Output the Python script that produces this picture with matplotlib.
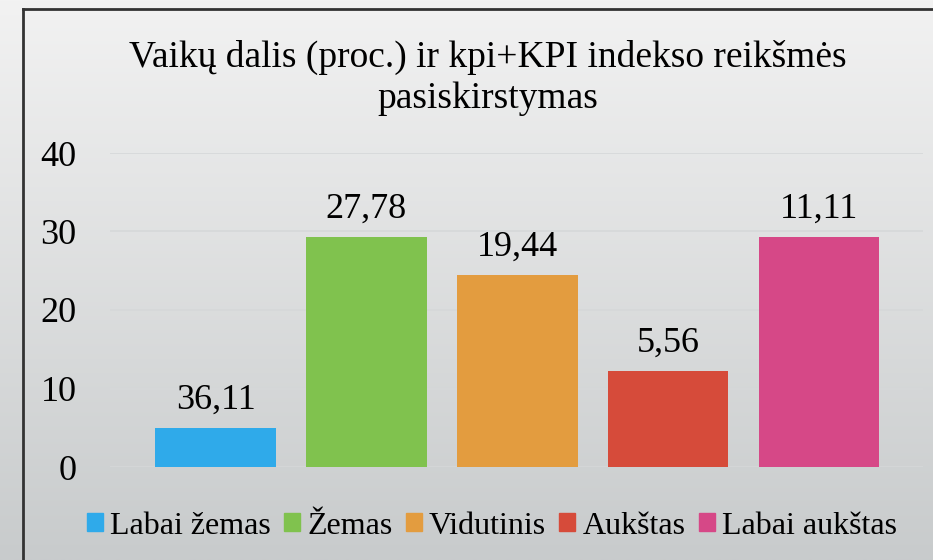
import numpy as np
import matplotlib
matplotlib.use("Agg")
import matplotlib.pyplot as plt
from matplotlib.patches import Patch
from matplotlib.lines import Line2D

plt.rcParams['font.family'] = ['Liberation Serif', 'DejaVu Serif']

# data
categories = ['Labai žemas', 'Žemas', 'Vidutinis', 'Aukštas', 'Labai aukštas']
heights = [5.0, 29.3, 24.5, 12.2, 29.3]
bar_labels = ['36,11', '27,78', '19,44', '5,56', '11,11']
colors = ['#2FAAEA', '#80C24E', '#E39C3F', '#D64B3A', '#D64887']
yticks = [0, 10, 20, 30, 40]
title = 'Vaikų dalis (proc.) ir kpi+KPI indekso reikšmės\npasiskirstymas'

fig = plt.figure(figsize=(9.33, 5.6), dpi=100)

# gradient background
bg = fig.add_axes([0, 0, 1, 1])
grad = np.linspace(0, 1, 256).reshape(-1, 1)
cmap = matplotlib.colors.LinearSegmentedColormap.from_list('bg', ['#F2F2F2', '#C8CBCC'])
bg.imshow(grad, aspect='auto', cmap=cmap, extent=[0, 1, 0, 1], origin='upper')
bg.set_xlim(0, 1)
bg.set_ylim(0, 1)
bg.axis('off')
# chart frame (left and top edges visible)
fx = 23 / 933
fy = 1 - 9 / 560
bg.add_line(Line2D([fx, fx], [0, fy], color='#333333', lw=2))
bg.add_line(Line2D([fx, 1], [fy, fy], color='#333333', lw=2))

ax = fig.add_axes([110 / 933, 93 / 560, 813 / 933, 314 / 560])
ax.patch.set_alpha(0)
x = np.arange(len(categories))
bars = ax.bar(x, heights, width=0.8, color=colors, zorder=3)
for b, lab in zip(bars, bar_labels):
    ax.annotate(lab, (b.get_x() + b.get_width() / 2, b.get_height()),
                xytext=(0, 8), textcoords='offset points',
                ha='center', va='bottom', fontsize=26)

ax.set_xlim(-0.7, 4.69)
ax.set_ylim(0, 40)
ax.set_yticks(yticks)
ax.tick_params(axis='y', length=0, labelsize=26, pad=24)
ax.set_xticks([])
ax.yaxis.grid(True, color='#D6D8D9', lw=1.2, zorder=0)
for s in ax.spines.values():
    s.set_visible(False)

fig.text(488 / 933, 1 - 78 / 560, title, ha='center', va='center',
         fontsize=27, linespacing=1.25)

handles = [Patch(color=c) for c in colors]
fig.legend(handles, categories, loc='center', bbox_to_anchor=(492 / 933, 34 / 560),
           ncol=5, frameon=False, fontsize=23, handlelength=0.5, handleheight=0.5,
           handletextpad=0.22, columnspacing=0.42, borderpad=0, borderaxespad=0)

fig.savefig('out.png', dpi=100)
